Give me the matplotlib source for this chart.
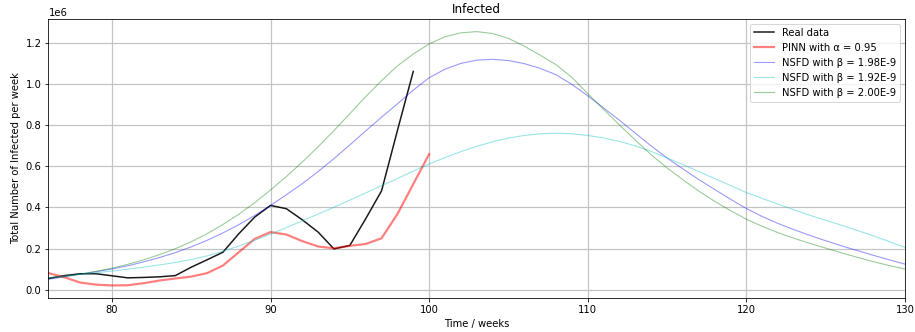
import matplotlib
matplotlib.use("Agg")
import matplotlib.pyplot as plt
import numpy as np

# Real data (weekly)
real_weeks = list(range(76, 100))
real_vals = [0.054, 0.068, 0.077, 0.077, 0.067, 0.057, 0.059, 0.062, 0.068, 0.109,
             0.145, 0.182, 0.272, 0.353, 0.410, 0.394, 0.340, 0.280, 0.198, 0.215,
             0.345, 0.481, 0.775, 1.063]

# PINN prediction
pinn_weeks = list(range(76, 101))
pinn_vals = [0.080, 0.060, 0.034, 0.024, 0.020, 0.021, 0.031, 0.044, 0.054, 0.063,
             0.080, 0.117, 0.182, 0.247, 0.280, 0.268, 0.236, 0.210, 0.201, 0.213,
             0.222, 0.250, 0.368, 0.514, 0.660]

# NSFD simulations (weekly, weeks 76..130)
nsfd_weeks = list(range(76, 131))
nsfd_198 = [0.050, 0.062, 0.075, 0.087, 0.100, 0.116, 0.135, 0.156, 0.180, 0.208,
            0.240, 0.276, 0.316, 0.361, 0.410, 0.462, 0.516, 0.575, 0.638, 0.705,
            0.773, 0.840, 0.905, 0.972, 1.032, 1.074, 1.102, 1.118, 1.122, 1.116,
            1.101, 1.078, 1.047, 1.000, 0.944, 0.885, 0.825, 0.762, 0.700, 0.641,
            0.588, 0.536, 0.488, 0.440, 0.395, 0.356, 0.322, 0.292, 0.264, 0.238,
            0.213, 0.190, 0.167, 0.145, 0.124]
nsfd_192 = [0.058, 0.066, 0.074, 0.082, 0.090, 0.099, 0.109, 0.120, 0.132, 0.146,
            0.164, 0.187, 0.212, 0.240, 0.270, 0.302, 0.335, 0.368, 0.401, 0.436,
            0.471, 0.506, 0.541, 0.577, 0.612, 0.643, 0.672, 0.698, 0.720, 0.738,
            0.751, 0.759, 0.762, 0.759, 0.751, 0.739, 0.722, 0.700, 0.673, 0.642,
            0.609, 0.575, 0.541, 0.507, 0.473, 0.444, 0.416, 0.389, 0.362, 0.338,
            0.313, 0.288, 0.262, 0.234, 0.205]
nsfd_200 = [0.055, 0.064, 0.075, 0.089, 0.104, 0.123, 0.145, 0.170, 0.199, 0.233,
            0.272, 0.317, 0.367, 0.423, 0.485, 0.551, 0.621, 0.696, 0.775, 0.857,
            0.940, 1.018, 1.090, 1.148, 1.197, 1.232, 1.251, 1.257, 1.248, 1.224,
            1.186, 1.142, 1.096, 1.034, 0.955, 0.878, 0.802, 0.728, 0.657, 0.593,
            0.535, 0.480, 0.430, 0.385, 0.343, 0.308, 0.277, 0.250, 0.225, 0.202,
            0.179, 0.157, 0.136, 0.117, 0.100]

labels = ["Real data", "PINN with α = 0.95", "NSFD with β = 1.98E-9",
          "NSFD with β = 1.92E-9", "NSFD with β = 2.00E-9"]

fig = plt.figure(figsize=(915/72, 332/72), dpi=72)
ax = fig.add_axes([0.053, 0.102, 0.936, 0.841])

sc = 1e6
ax.plot(real_weeks, np.array(real_vals) * sc, color="k", lw=1.5, alpha=0.9, label=labels[0])
ax.plot(pinn_weeks, np.array(pinn_vals) * sc, color="r", lw=2.2, alpha=0.5, label=labels[1])
ax.plot(nsfd_weeks, np.array(nsfd_198) * sc, color="b", lw=1.1, alpha=0.4, label=labels[2])
ax.plot(nsfd_weeks, np.array(nsfd_192) * sc, color="c", lw=1.1, alpha=0.4, label=labels[3])
ax.plot(nsfd_weeks, np.array(nsfd_200) * sc, color="g", lw=1.1, alpha=0.4, label=labels[4])

ax.set_xlim(76, 130)
ax.grid(True, color="#c4c4c4", lw=1.2)
ax.set_title("Infected")
ax.set_xlabel("Time / weeks")
ax.set_ylabel("Total Number of Infected per week")
ax.legend(loc="upper right")

fig.savefig("out.png", dpi=72)
